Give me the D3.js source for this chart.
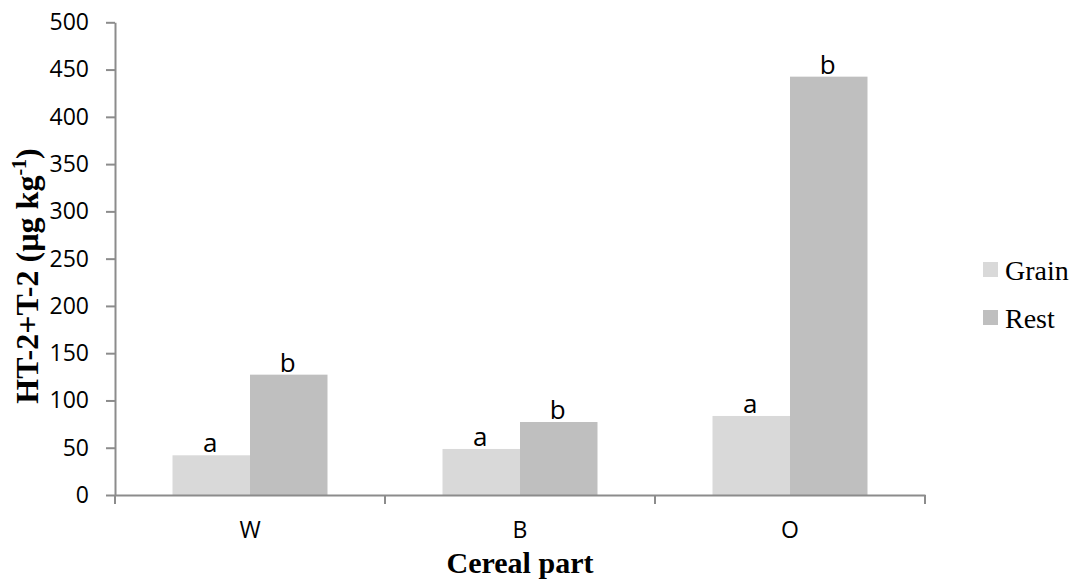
<!DOCTYPE html>
<html>
<head>
<meta charset="utf-8">
<script src="https://cdn.jsdelivr.net/npm/d3@7"></script>
<style>
  html, body { margin: 0; padding: 0; background: #fff; }
  svg { display: block; }
</style>
</head>
<body>
<svg id="chart" width="1081" height="584"></svg>
<script>
// ---- data ----
const categories = ["W", "B", "O"];
const seriesNames = ["Grain", "Rest"];
const grainValues = [42, 48.7, 83.6];
const restValues = [127.3, 77.2, 442.5];
const grainLetters = ["a", "a", "a"];
const restLetters = ["b", "b", "b"];
const yTicks = [0, 50, 100, 150, 200, 250, 300, 350, 400, 450, 500];

const colors = { Grain: "#d9d9d9", Rest: "#bfbfbf" };
const axisColor = "#8c8c8c";

const svg = d3.select("#chart");
const mLeft = 115, mRight = 925, mTop = 22.3, mBottom = 495;

const x0 = d3.scaleBand().domain(categories).range([mLeft, mRight]).padding(0);
const x1 = d3.scaleBand().domain(seriesNames).range([0, x0.bandwidth()])
  .paddingInner(0).paddingOuter(0.742);
const y = d3.scaleLinear().domain([0, 500]).range([mBottom, mTop]);

const rows = categories.map((c, i) => ({
  cat: c,
  vals: [
    { s: "Grain", v: grainValues[i], l: grainLetters[i] },
    { s: "Rest", v: restValues[i], l: restLetters[i] }
  ]
}));

// bars
const g = svg.append("g");
const groups = g.selectAll("g.cat").data(rows).enter().append("g")
  .attr("transform", d => `translate(${x0(d.cat)},0)`);
groups.selectAll("rect").data(d => d.vals).enter().append("rect")
  .attr("x", d => x1(d.s))
  .attr("width", x1.bandwidth())
  .attr("y", d => y(d.v))
  .attr("height", d => y(0) - y(d.v))
  .attr("fill", d => colors[d.s]);
groups.selectAll("text").data(d => d.vals).enter().append("text")
  .attr("x", d => x1(d.s) + x1.bandwidth() / 2 - 1)
  .attr("y", d => y(d.v) - 3)
  .attr("text-anchor", "middle")
  .attr("font-family", "Open Sans, sans-serif")
  .attr("font-size", 26)
  .attr("fill", "#000")
  .text(d => d.l);

// y axis
const yAxis = d3.axisLeft(y).tickValues(yTicks).tickSize(9).tickPadding(17).tickSizeOuter(0);
const ya = svg.append("g").attr("transform", `translate(${mLeft},0)`).call(yAxis);
ya.select(".domain").attr("stroke", axisColor).attr("stroke-width", 2);
ya.selectAll(".tick line").attr("stroke", axisColor).attr("stroke-width", 2);
ya.selectAll(".tick text")
  .attr("font-family", "Open Sans, sans-serif")
  .attr("font-size", 23)
  .attr("fill", "#000");

// x axis
const xAxis = d3.axisBottom(x0).tickSize(0).tickFormat("").tickSizeOuter(0);
const xa = svg.append("g").attr("transform", `translate(0,${mBottom})`).call(xAxis);
xa.select(".domain").attr("stroke", axisColor).attr("stroke-width", 2);
const bounds = [x0(categories[0])].concat(categories.map(c => x0(c) + x0.bandwidth()));
xa.selectAll("line.bound").data(bounds).enter().append("line")
  .attr("class", "bound")
  .attr("x1", d => d).attr("x2", d => d)
  .attr("y1", 0).attr("y2", 9)
  .attr("stroke", axisColor).attr("stroke-width", 2);
svg.append("g").selectAll("text").data(categories).enter().append("text")
  .attr("x", d => x0(d) + x0.bandwidth() / 2)
  .attr("y", 538)
  .attr("text-anchor", "middle")
  .attr("font-family", "Open Sans, sans-serif")
  .attr("font-size", 23)
  .attr("fill", "#000")
  .text(d => d);

// axis titles
svg.append("text")
  .attr("x", (mLeft + mRight) / 2)
  .attr("y", 573)
  .attr("text-anchor", "middle")
  .attr("font-family", "Liberation Serif, Times New Roman, serif")
  .attr("font-weight", "bold")
  .attr("font-size", 30)
  .attr("fill", "#000")
  .text("Cereal part");

const yt = svg.append("text")
  .attr("transform", "translate(38,276) rotate(-90)")
  .attr("text-anchor", "middle")
  .attr("font-family", "Liberation Serif, Times New Roman, serif")
  .attr("font-weight", "bold")
  .attr("font-size", 32)
  .attr("fill", "#000");
yt.append("tspan").text("HT-2+T-2 (µg kg");
yt.append("tspan").attr("font-size", 20).attr("dy", -12).text("-1");
yt.append("tspan").attr("dy", 12).text(")");

// legend
const legend = svg.append("g");
const lg = legend.selectAll("g").data(seriesNames).enter().append("g")
  .attr("transform", (d, i) => `translate(983,${262 + i * 48})`);
lg.append("rect").attr("width", 15).attr("height", 15).attr("fill", d => colors[d]);
lg.append("text")
  .attr("x", 22).attr("y", 17.5)
  .attr("font-family", "Liberation Serif, Times New Roman, serif")
  .attr("font-size", 28)
  .attr("fill", "#000")
  .text(d => d);
</script>
</body>
</html>
